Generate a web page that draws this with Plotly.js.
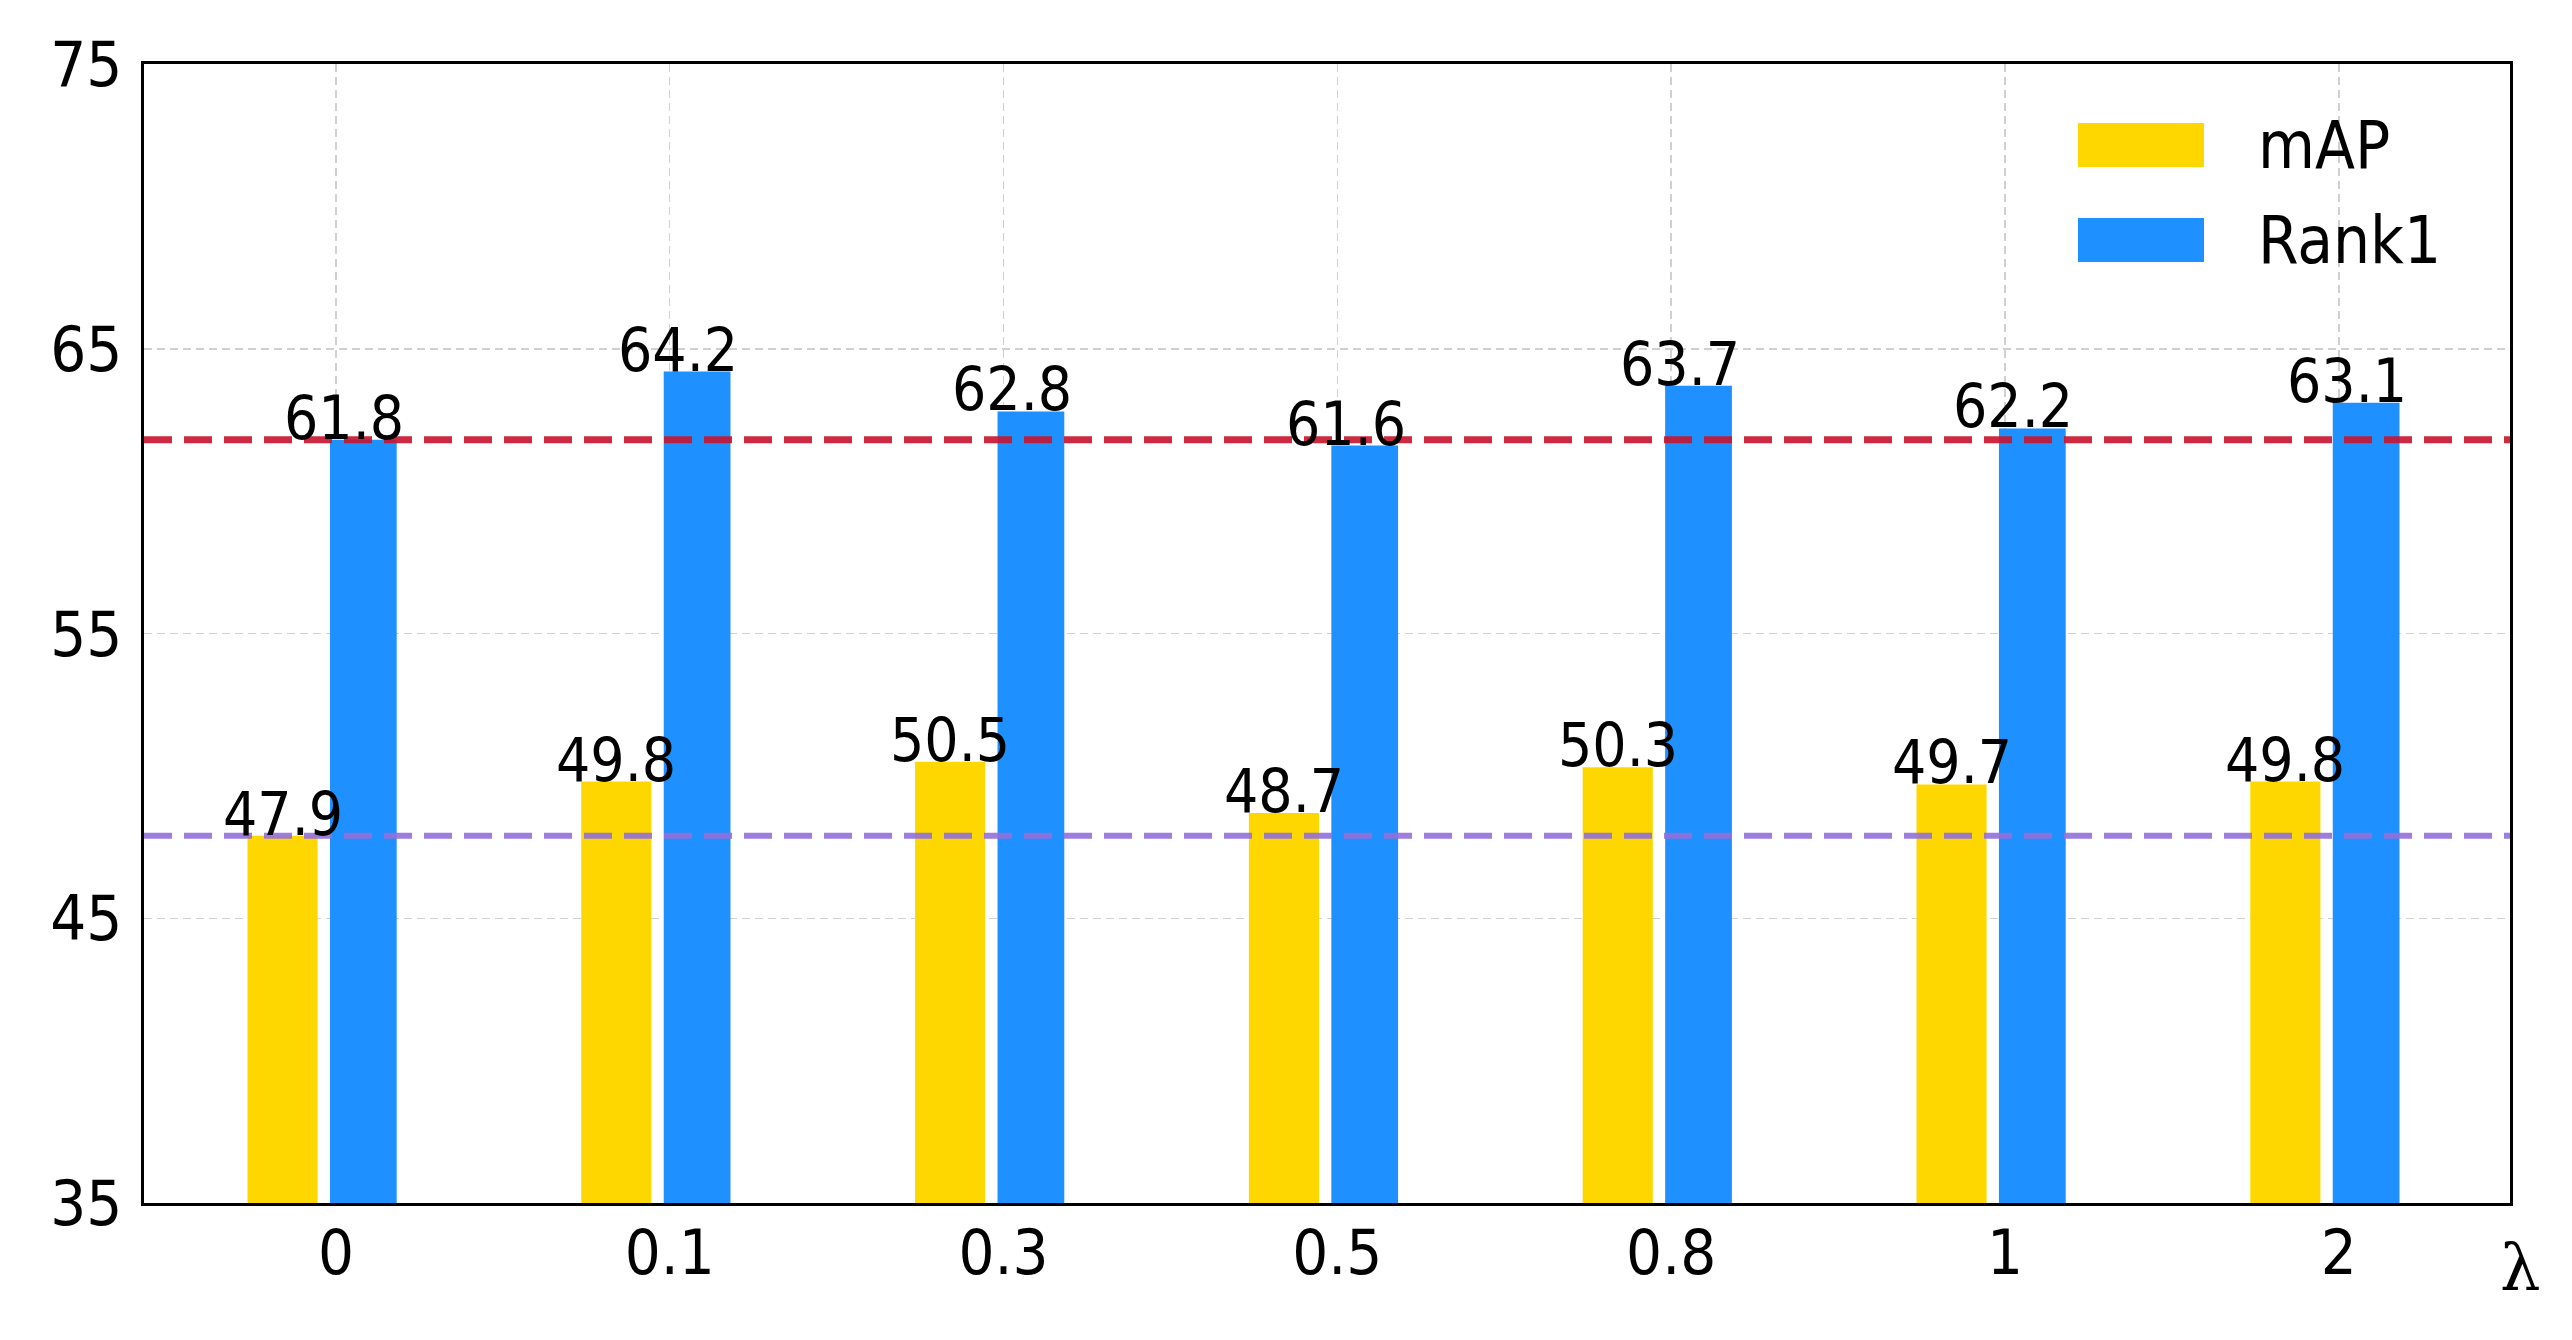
<!DOCTYPE html>
<html>
<head>
<meta charset="utf-8">
<script src="https://cdn.plot.ly/plotly-3.0.1.min.js"></script>
<style>html,body{margin:0;padding:0;background:#fff;}#chart{width:2572px;height:1340px;}</style>
</head>
<body>
<div id="chart"></div>
<script>
// ---- data ----
const lambdas = ["0", "0.1", "0.3", "0.5", "0.8", "1", "2"];
const mAP = [47.9, 49.8, 50.5, 48.7, 50.3, 49.7, 49.8];
const rank1 = [61.8, 64.2, 62.8, 61.6, 63.7, 62.2, 63.1];
const seriesNames = ["mAP", "Rank1"];
const yTicks = [35, 45, 55, 65, 75];
const xLabel = "λ";

// ---- style ----
const FONT = "DejaVu Sans Condensed, DejaVu Sans, sans-serif";
const FS_LABEL = 60, FS_TICK = 63, FS_LEG = 65;
const cMAP = "#FFD700";
const cR1 = "#1E90FF";
const idx = lambdas.map((_, i) => i);

const offM = -0.265, wM = 0.21;
const offR = -0.018, wR = 0.2;

const traces = [
  {type: "bar", name: seriesNames[0], x: idx, y: mAP,
   offset: offM, width: wM, marker: {color: cMAP, line: {width: 0}}, showlegend: false, hoverinfo: "skip"},
  {type: "bar", name: seriesNames[1], x: idx, y: rank1,
   offset: offR, width: wR, marker: {color: cR1, line: {width: 0}}, showlegend: false, hoverinfo: "skip"}
];

const annotations = [];
mAP.forEach((v, i) => annotations.push({
  x: i + offM + wM / 2, y: v, xref: "x", yref: "y", text: v.toFixed(1), showarrow: false,
  xanchor: "center", yanchor: "bottom", yshift: -15, font: {family: FONT, size: FS_LABEL, color: "#000"}
}));
rank1.forEach((v, i) => annotations.push({
  x: i + 0.025, y: v, xref: "x", yref: "y", text: v.toFixed(1), showarrow: false,
  xanchor: "center", yanchor: "bottom", yshift: -15, font: {family: FONT, size: FS_LABEL, color: "#000"}
}));
// lambda axis label
annotations.push({
  x: 1.0045, y: -0.056, xref: "paper", yref: "paper", text: xLabel, showarrow: false,
  xanchor: "center", yanchor: "middle", font: {family: "DejaVu Serif, serif", size: 64, color: "#000"}
});
// legend
const legendColors = [cMAP, cR1];
const plotL = 144, plotR = 2510, plotT = 64, plotB = 1203;
const px2x = p => (p - plotL) / (plotR - plotL);
const py2y = p => (plotB - p) / (plotB - plotT);
const shapes = [];
seriesNames.forEach((n, k) => {
  const yc = [145, 240][k];
  shapes.push({type: "rect", xref: "paper", yref: "paper",
    x0: px2x(2078), x1: px2x(2204), y0: py2y(yc + 22), y1: py2y(yc - 22),
    fillcolor: legendColors[k], line: {width: 0}, layer: "above"});
  annotations.push({x: px2x(2256), y: py2y(yc), xref: "paper", yref: "paper", text: n,
    showarrow: false, xanchor: "left", yanchor: "middle", font: {family: FONT, size: FS_LEG, color: "#000"}});
});
// reference lines at lambda=0 values
shapes.push({type: "line", xref: "paper", yref: "y", x0: 0, x1: 1, y0: rank1[0], y1: rank1[0],
  line: {color: "#C8142D", width: 7, dash: "28px,12px"}, opacity: 0.9, layer: "above"});
shapes.push({type: "line", xref: "paper", yref: "y", x0: 0, x1: 1, y0: mAP[0], y1: mAP[0],
  line: {color: "#9370DB", width: 6, dash: "28px,12px"}, opacity: 0.9, layer: "above"});

const layout = {
  width: 2572, height: 1340,
  margin: {l: plotL, r: 2572 - plotR, t: plotT, b: 1340 - plotB},
  paper_bgcolor: "#fff", plot_bgcolor: "#fff",
  showlegend: false,
  barmode: "overlay",
  font: {family: FONT, size: FS_TICK, color: "#000"},
  xaxis: {
    range: [-0.575, 6.513], tickmode: "array", tickvals: idx, ticktext: lambdas,
    showgrid: true, gridcolor: "#d0d0d0", gridwidth: 1.5, griddash: "8px,5px",
    showline: true, linecolor: "#000", linewidth: 3, mirror: true,
    ticks: "", ticklabelstandoff: -8, zeroline: false,
    tickfont: {family: FONT, size: FS_TICK, color: "#000"}
  },
  yaxis: {
    range: [35, 75], tickmode: "array", tickvals: yTicks, ticktext: yTicks.map(String),
    showgrid: true, gridcolor: "#d0d0d0", gridwidth: 1.5, griddash: "8px,5px",
    showline: true, linecolor: "#000", linewidth: 3, mirror: true,
    ticks: "", ticklabelstandoff: 6, zeroline: false,
    tickfont: {family: FONT, size: FS_TICK, color: "#000"}
  },
  annotations: annotations,
  shapes: shapes
};

Plotly.newPlot("chart", traces, layout, {staticPlot: true, displayModeBar: false});
</script>
</body>
</html>
